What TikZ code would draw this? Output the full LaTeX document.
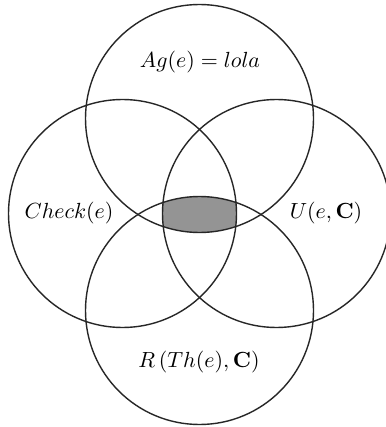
\documentclass[tikz,border=0pt]{standalone}
\begin{document}
\begin{tikzpicture}[x=0.5pt,y=-0.5pt,
  ring/.style={draw=black!85,line width=0.7pt},
  lbl/.style={font=\fontsize{10.6}{12}\selectfont,inner sep=0pt}]
\useasboundingbox (0,0) rectangle (385,427);
\fill[white] (0,0) rectangle (385,427);
\coordinate (ct) at (199.5,118.5);
\coordinate (cb) at (199.5,310.5);
\coordinate (cl) at (122.5,213.5);
\coordinate (cr) at (276.5,213.5);
% shaded intersection
\begin{scope}
  \clip (ct) circle (57pt);
  \clip (cb) circle (57pt);
  \clip (cl) circle (57pt);
  \fill[black!42] (cr) circle (57pt);
\end{scope}
\draw[ring] (ct) circle (57pt);
\draw[ring] (cb) circle (57pt);
\draw[ring] (cl) circle (57pt);
\draw[ring] (cr) circle (57pt);
\node[lbl] (ag) at (200,62) {$Ag(e) = lola$};
\node[lbl] (ch) at (69,213) {$Check(e)$};
\node[lbl] (u) at (326,213) {$U(e,\mathbf{C})$};
\node[lbl] (r) at (199,362) {$R\,(Th(e),\mathbf{C})$};
\end{tikzpicture}
\end{document}
